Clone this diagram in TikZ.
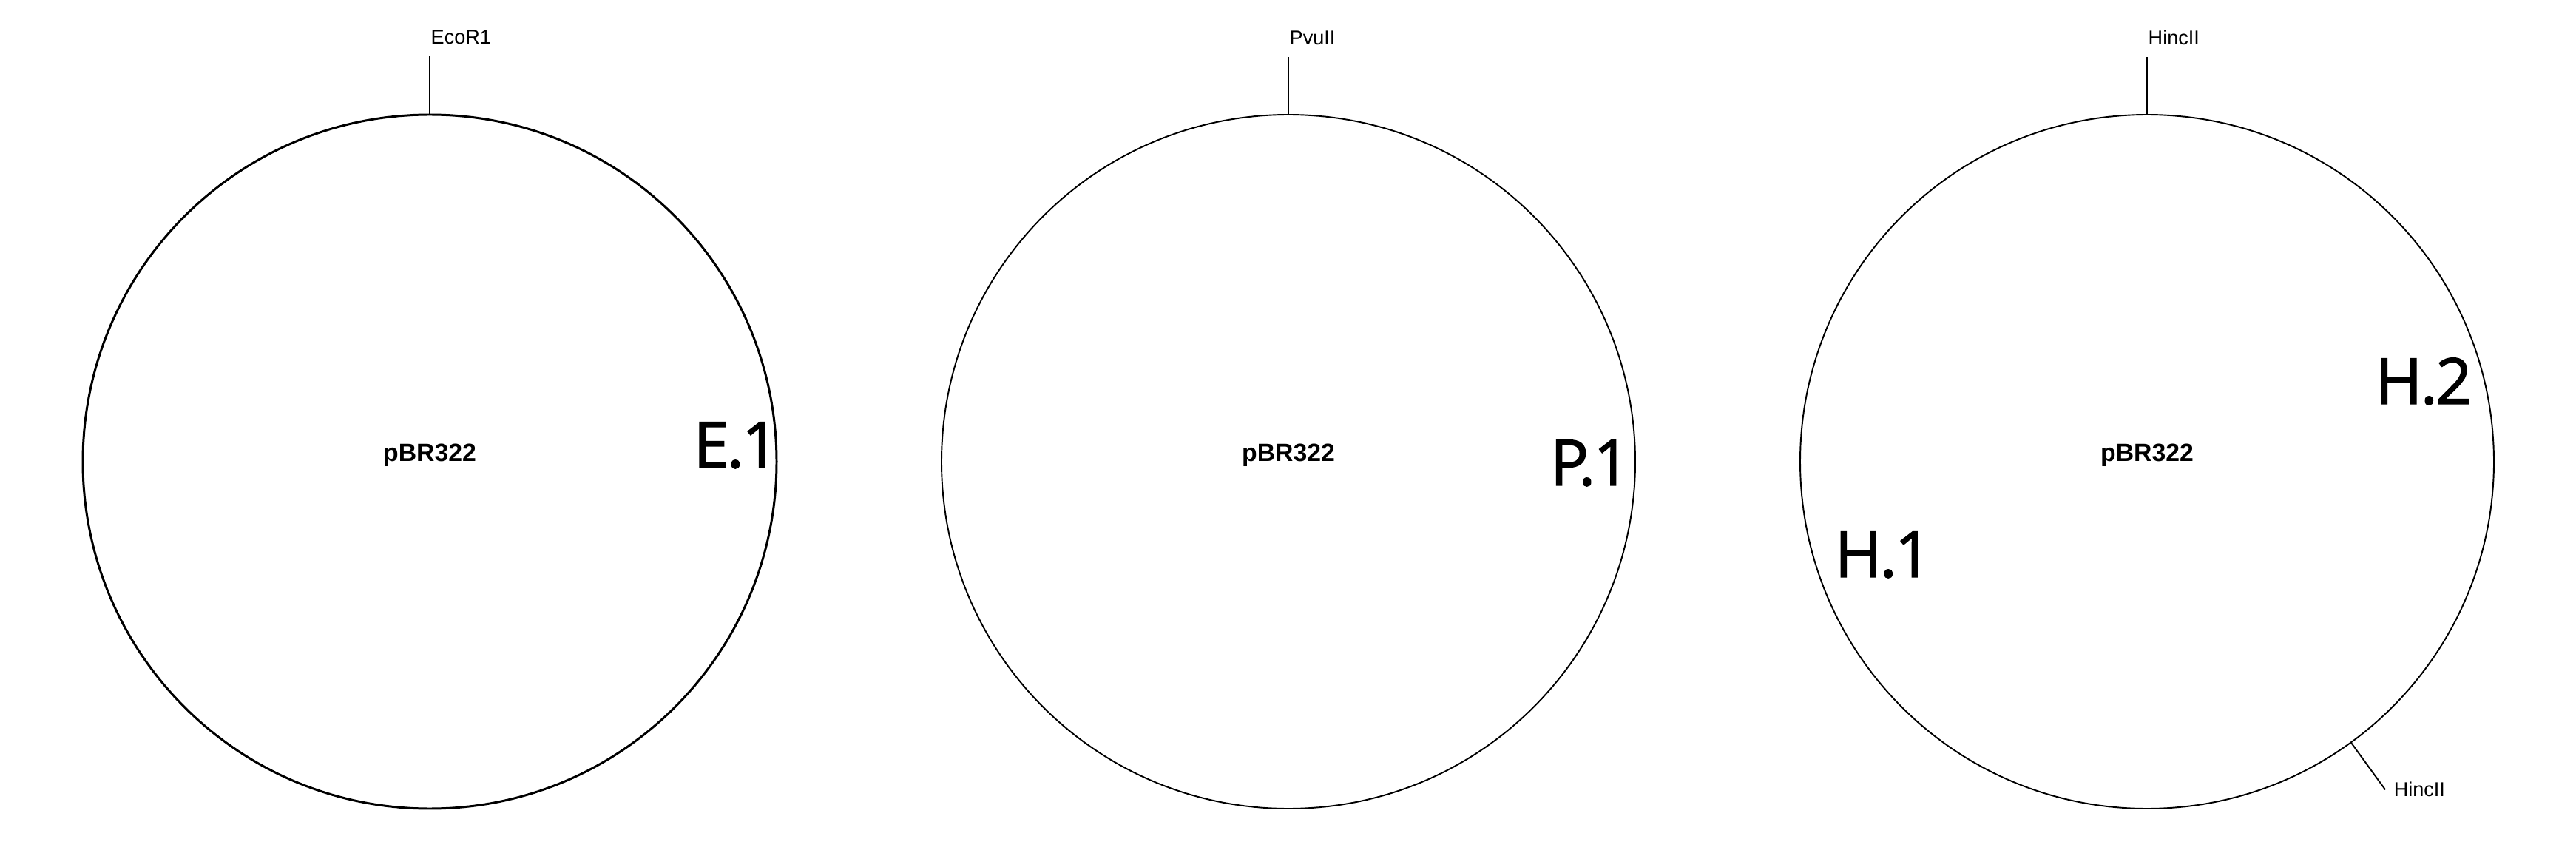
\documentclass[tikz,border=0pt]{standalone}
\usepackage{fontspec}
\setmainfont{Liberation Sans}
\newfontfamily\fragfont[FakeBold=1.6,LetterSpace=-3]{Open Sans}
\usetikzlibrary{positioning}
\begin{document}
\begin{tikzpicture}[node distance=1cm, auto]
    \tikzstyle{plasmid}=[circle,draw,minimum size=9.38cm,inner sep=0pt]
    \tikzstyle{plasmidname}=[font=\fontsize{9.6pt}{11pt}\selectfont\bfseries,inner sep=0pt,anchor=base]
    \tikzstyle{site}=[font=\fontsize{7.7pt}{9pt}\selectfont,inner sep=0pt]
    \tikzstyle{frag}=[font=\fragfont\fontsize{24.5pt}{28pt}\selectfont,inner sep=0pt,anchor=base]
    \useasboundingbox (0,0) rectangle (34.83,-11.61);
    \node (ecor) [plasmid, line width=0.85pt] at (5.81,-6.24) {};
    \node (pvu) [plasmid, line width=0.55pt] at (17.42,-6.24) {};
    \node (hinc) [plasmid, line width=0.55pt] at (29.03,-6.24) {};
    \node (ecorname) [plasmidname] at (ecor.center) {pBR322};
    \node (pvuname) [plasmidname] at (pvu.center) {pBR322};
    \node (hincname) [plasmidname] at (hinc.center) {pBR322};
    \draw [line width=0.55pt] (ecor.north) -- ++(0,0.77) coordinate (ecortop);
    \draw [line width=0.55pt] (pvu.north) -- ++(0,0.77) coordinate (pvutop);
    \draw [line width=0.55pt] (hinc.north) -- ++(0,0.77) coordinate (hinctop);
    \draw [line width=0.55pt] (hinc.-54) -- ++(-54:0.78) coordinate (hincbot);
    \node (ecorsite) [site, above right=0.16cm and 0.01cm of ecortop] {EcoR1};
    \node (pvusite) [site, above right=0.16cm and 0.01cm of pvutop] {PvuII};
    \node (hincsite) [site, above right=0.16cm and 0.01cm of hinctop] {HincII};
    \node (hincsite2) [site, right=0.11cm of hincbot] {HincII};
    \node (e1) [frag] at (9.95,-6.32) {E.1};
    \node (p1) [frag] at (21.50,-6.56) {P.1};
    \node (h1) [frag] at (25.46,-7.80) {H.1};
    \node (h2) [frag] at (32.77,-5.46) {H.2};
\end{tikzpicture}
\end{document}
